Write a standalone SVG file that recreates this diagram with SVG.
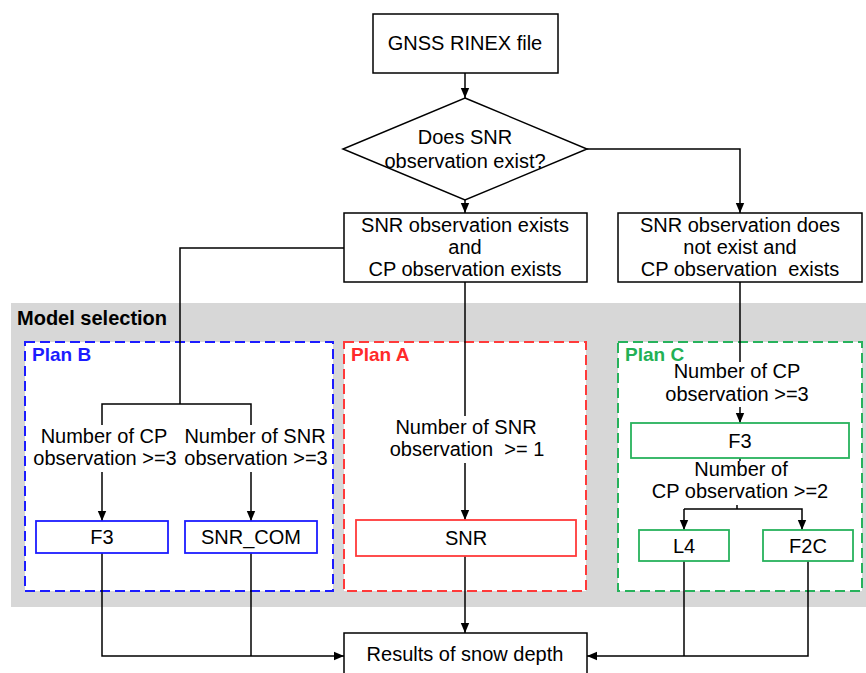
<svg xmlns="http://www.w3.org/2000/svg" width="866" height="673" viewBox="0 0 866 673">
<defs>
<marker id="arr" markerUnits="userSpaceOnUse" markerWidth="10" markerHeight="10" viewBox="0 0 10 10" refX="10" refY="5" orient="auto">
<path d="M0,0.8 L10,5 L0,9.2 Z" fill="#000"/>
</marker>
<style>
text{font-family:"Liberation Sans",Arial,sans-serif;font-size:20px;fill:#000;text-anchor:middle}
.t{white-space:pre}
.bold{font-weight:bold;text-anchor:start}
.box{fill:#fff;stroke:#000;stroke-width:1.5}
.plan{fill:#fff;stroke-width:2;stroke-dasharray:10 5}
.blue{stroke:#1c1cff}
.red{stroke:#ff3a3a}
.green{stroke:#27b25c}
.mb{fill:#fff;stroke-width:1.8}
.c{fill:none;stroke:#000;stroke-width:1.5}
.a{marker-end:url(#arr)}
</style>
</defs>
<rect x="11" y="303" width="855" height="304" fill="#d7d7d7"/>
<text class="bold" x="17" y="325">Model selection</text>
<g id="planB"><rect class="plan blue" x="25" y="342" width="308" height="249"/><text class="bold" x="32" y="361" style="fill:#1c1cff;font-size:19px">Plan B</text></g>
<g id="planA"><rect class="plan red" x="344" y="342" width="242" height="249"/><text class="bold" x="351" y="361" style="fill:#ff2a2a;font-size:19px">Plan A</text></g>
<g id="planC"><rect class="plan green" x="618" y="342" width="244" height="249"/><text class="bold" x="625" y="361" style="fill:#22b055;font-size:19px">Plan C</text></g>

<g id="connectors">
<path class="c a" d="M465,73 V98"/>
<path class="c a" d="M465,200 V213"/>
<path class="c a" d="M587,149 H740 V213"/>
<path class="c" d="M344,248 H180 V404"/>
<path class="c" d="M102,425 V404 H251 V425"/>
<path class="c a" d="M102,472 V521"/>
<path class="c a" d="M251,472 V521"/>
<path class="c" d="M465,282 V416"/>
<path class="c a" d="M465,463 V520"/>
<path class="c" d="M740,282 V362"/>
<path class="c a" d="M740,407 V423"/>
<path class="c" d="M740,458 V461"/>
<path class="c" d="M737,505 V509"/>
<path class="c a" d="M684,509 H802 V530"/>
<path class="c a" d="M684,509 V530"/>
<path class="c a" d="M102,553 V656 H344"/>
<path class="c" d="M251,553 V656"/>
<path class="c a" d="M465,556 V633"/>
<path class="c" d="M684,561 V656"/>
<path class="c a" d="M808,561 V656 H587"/>
</g>

<g id="gnss"><rect class="box" x="373" y="14" width="185" height="59"/><text x="465" y="50">GNSS RINEX file</text></g>
<g id="decision"><polygon class="box" points="465,98 587,149 465,200 343,149"/><text x="465" y="144">Does SNR</text><text x="465" y="168">observation exist?</text></g>
<g id="snrExists"><rect class="box" x="344" y="213" width="243" height="69"/><text x="465" y="232">SNR observation exists</text><text x="465" y="254">and</text><text x="465" y="276">CP observation exists</text></g>
<g id="snrNot"><rect class="box" x="618" y="213" width="244" height="69"/><text x="740" y="232">SNR observation does</text><text x="740" y="254">not exist and</text><text class="t" x="740" y="276">CP observation  exists</text></g>

<g id="labelB1"><text x="104" y="443">Number of CP</text><text x="105" y="465">observation &gt;=3</text></g>
<g id="labelB2"><text x="255" y="443">Number of SNR</text><text x="256" y="465">observation &gt;=3</text></g>
<g id="labelA"><text x="466" y="434">Number of SNR</text><text class="t" x="467" y="456">observation  &gt;= 1</text></g>
<g id="labelC1"><text x="737" y="378">Number of CP</text><text x="737" y="401">observation &gt;=3</text></g>
<g id="labelC2"><text x="741" y="476">Number of</text><text x="740" y="498">CP observation &gt;=2</text></g>

<g id="f3b"><rect class="mb blue" x="36" y="521" width="132" height="32"/><text x="102" y="544">F3</text></g>
<g id="snrcom"><rect class="mb blue" x="185" y="521" width="132" height="32"/><text x="251" y="544">SNR_COM</text></g>
<g id="snr"><rect class="mb red" x="356" y="520" width="220" height="36"/><text x="466" y="545">SNR</text></g>
<g id="f3c"><rect class="mb green" x="631" y="423" width="218" height="35"/><text x="740" y="448">F3</text></g>
<g id="l4"><rect class="mb green" x="639" y="530" width="90" height="31"/><text x="684" y="553">L4</text></g>
<g id="f2c"><rect class="mb green" x="763" y="530" width="90" height="31"/><text x="808" y="553">F2C</text></g>
<g id="results"><rect class="box" x="344" y="633" width="243" height="50"/><text x="465" y="661">Results of snow depth</text></g>
</svg>
